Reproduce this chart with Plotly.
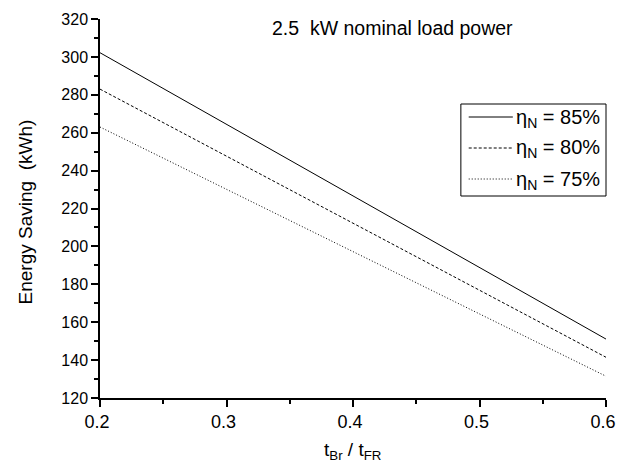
import plotly.graph_objects as go

# Data
x_ratio = [0.2, 0.6]
eta_labels = ["85%", "80%", "75%"]
saving_85 = [302.2, 151.1]
saving_80 = [283.0, 141.5]
saving_75 = [263.0, 131.5]
series = [saving_85, saving_80, saving_75]
dashes = ["solid", "3px,2px", "1px,2px"]

FONT = "Liberation Sans, Arial, sans-serif"

fig = go.Figure()
for vals, lab, d in zip(series, eta_labels, dashes):
    fig.add_trace(go.Scatter(x=x_ratio, y=vals, mode="lines",
                             line=dict(color="black", width=1, dash=d),
                             name="η<sub>N</sub> = " + lab, showlegend=False))

# plot area in px: x 100..616, y 19..398
L, R, T, B = 100, 616, 19, 398
W, H = R - L, B - T
def px(xp):
    return (xp - L) / W
def py(yp):
    return (B - yp) / H

shapes = []
annotations = []
# legend box
shapes.append(dict(type="rect", xref="paper", yref="paper",
                   x0=px(468), x1=px(616), y0=py(196), y1=py(104),
                   line=dict(color="black", width=1), fillcolor="white", layer="above"))
row_y = [117, 148, 179]
for ry, lab, d in zip(row_y, eta_labels, dashes):
    shapes.append(dict(type="line", xref="paper", yref="paper",
                       x0=px(476), x1=px(521), y0=py(ry), y1=py(ry),
                       line=dict(color="black", width=1, dash=d), layer="above"))
    annotations.append(dict(xref="paper", yref="paper", x=px(522), y=py(ry + 1),
                            xanchor="left", yanchor="middle", showarrow=False,
                            text="η<sub>N</sub> = " + lab,
                            font=dict(family=FONT, size=20, color="black")))

annotations.append(dict(xref="paper", yref="paper", x=px(273), y=py(28),
                        xanchor="left", yanchor="middle", showarrow=False,
                        text="2.5  kW nominal load power",
                        font=dict(family=FONT, size=19.5, color="black")))
annotations.append(dict(xref="paper", yref="paper", x=px(24), y=py(212),
                        xanchor="center", yanchor="middle", showarrow=False,
                        textangle=-90, text="Energy Saving  (kWh)",
                        font=dict(family=FONT, size=19, color="black")))
annotations.append(dict(xref="paper", yref="paper", x=px(357), y=py(451),
                        xanchor="center", yanchor="middle", showarrow=False,
                        text="t<sub>Br</sub> / t<sub>FR</sub>",
                        font=dict(family=FONT, size=19, color="black")))

fig.update_layout(
    width=624, height=464,
    margin=dict(l=L, r=624 - R, t=T, b=464 - B, pad=0),
    paper_bgcolor="white", plot_bgcolor="white",
    shapes=shapes, annotations=annotations,
    font=dict(family=FONT, color="black"),
)
fig.update_xaxes(range=[0.2, 0.6], dtick=0.1, tick0=0.2, tickformat=".1f",
                 showline=True, linecolor="black", linewidth=1.5,
                 ticks="outside", ticklen=7, tickwidth=1.5, tickcolor="black",
                 minor=dict(ticks="outside", ticklen=4, dtick=0.05, tickwidth=1.5, tickcolor="black"),
                 showgrid=False, zeroline=False,
                 ticklabelshift=-3, ticklabeloverflow="allow",
                 tickfont=dict(family=FONT, size=18, color="black"))
fig.update_yaxes(range=[120, 320], dtick=20,
                 showline=True, linecolor="black", linewidth=1.5,
                 ticks="outside", ticklen=7, tickwidth=1.5, tickcolor="black",
                 minor=dict(ticks="outside", ticklen=4, dtick=10, tickwidth=1.5, tickcolor="black"),
                 showgrid=False, zeroline=False,
                 tickfont=dict(family=FONT, size=16, color="black"))

fig.write_html("out.html")
